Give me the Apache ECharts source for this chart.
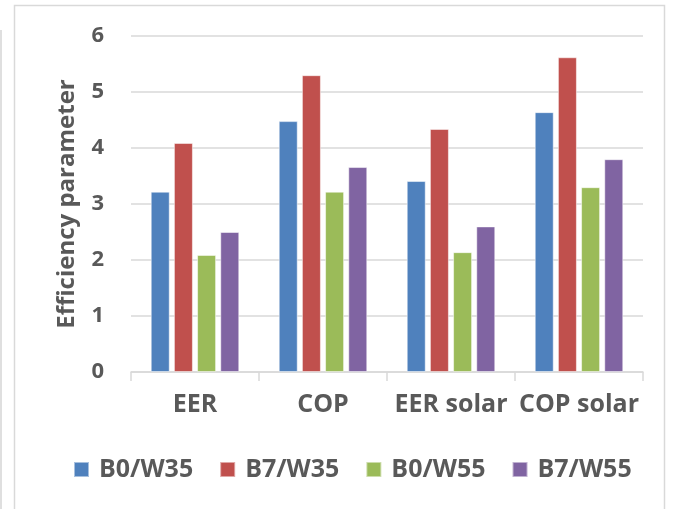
<!DOCTYPE html>
<html><head><meta charset="utf-8">
<script src="https://cdn.jsdelivr.net/npm/echarts@6/dist/echarts.min.js"></script>
<style>html,body{margin:0;padding:0;background:#fff}#c{width:676px;height:509px}</style>
</head><body><div id="c"></div>
<script>
const categories = ['EER', 'COP', 'EER solar', 'COP solar'];
const seriesNames = ['B0/W35', 'B7/W35', 'B0/W55', 'B7/W55'];
const b0w35 = [3.22, 4.48, 3.41, 4.64];
const b7w35 = [4.09, 5.30, 4.34, 5.62];
const b0w55 = [2.09, 3.22, 2.14, 3.30];
const b7w55 = [2.50, 3.66, 2.60, 3.80];
const yTicks = [0, 1, 2, 3, 4, 5, 6];

const colors = ['#4f81bd', '#c0504d', '#9bbb59', '#8064a2'];
const font = '"Open Sans", "Noto Sans", sans-serif';
const txt = '#595959';
const data = [b0w35, b7w35, b0w55, b7w55];

const chart = echarts.init(document.getElementById('c'));
chart.setOption({
  animation: false,
  backgroundColor: '#fff',
  graphic: [
    {type: 'rect', shape: {x: 14.5, y: 5.5, width: 650, height: 520}, style: {fill: 'none', stroke: '#d9d9d9', lineWidth: 1.5}, silent: true},
    {type: 'line', shape: {x1: 1, y1: 30, x2: 1, y2: 509}, style: {stroke: '#bfbfbf', lineWidth: 1}, silent: true}
  ],
  grid: {left: 131, right: 33, top: 36, bottom: 137},
  legend: {
    top: 452, left: 68,
    itemWidth: 15, itemHeight: 15, itemGap: 26,
    icon: 'rect',
    textStyle: {fontFamily: font, fontSize: 25, fontWeight: 'bold', color: txt, padding: [0, 0, 0, 5]},
    data: seriesNames
  },
  xAxis: {
    type: 'category', data: categories,
    axisLine: {lineStyle: {color: '#d9d9d9', width: 1.5}},
    axisTick: {show: true, length: 9, lineStyle: {color: '#d9d9d9', width: 1.5}},
    axisLabel: {interval: 0, fontFamily: font, fontSize: 25, fontWeight: 'bold', color: txt, margin: 20}
  },
  yAxis: {
    type: 'value', min: 0, max: 6, interval: 1,
    name: 'Efficiency parameter', nameLocation: 'middle', nameGap: 52, nameRotate: 90,
    nameTextStyle: {fontFamily: font, fontSize: 24, fontWeight: 'bold', color: txt},
    axisLine: {show: false}, axisTick: {show: false},
    axisLabel: {fontFamily: font, fontSize: 22, fontWeight: 'bold', color: txt, margin: 27,
      padding: [0, 0, 5, 0],
      formatter: v => yTicks.includes(v) ? String(v) : ''},
    splitLine: {lineStyle: {color: '#d9d9d9', width: 1.5}}
  },
  series: seriesNames.map((n, i) => ({
    name: n, type: 'bar', data: data[i],
    barWidth: 19, barGap: '22%',
    itemStyle: {color: colors[i], borderColor: 'rgba(255,255,255,0.5)', borderWidth: 1}
  }))
});
</script></body></html>
